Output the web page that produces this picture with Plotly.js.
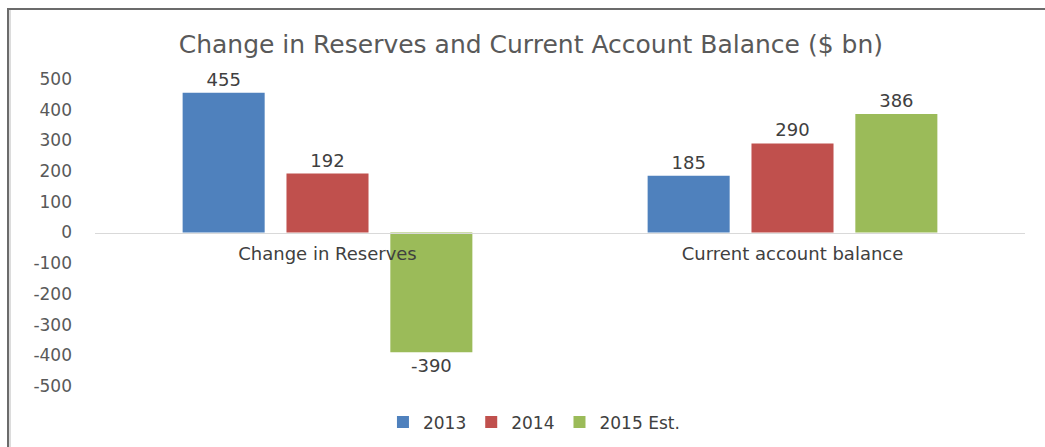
<!DOCTYPE html>
<html>
<head>
<meta charset="utf-8">
<script src="https://cdn.plot.ly/plotly-3.0.1.min.js"></script>
<style>
html,body{margin:0;padding:0;background:#fff;}
#wrap{position:relative;width:1045px;height:447px;overflow:hidden;}
#chart{width:1045px;height:447px;}
#frameTop{position:absolute;left:7px;top:8px;width:1038px;height:2px;background:#6b6b6b;}
#frameLeft{position:absolute;left:7px;top:8px;width:2px;height:439px;background:#6b6b6b;}
#frameLeft2{position:absolute;left:9px;top:10px;width:2px;height:437px;background:#dcdcdc;}
</style>
</head>
<body>
<div id="wrap">
<div id="chart"></div>
<div id="frameTop"></div>
<div id="frameLeft"></div>
<div id="frameLeft2"></div>
</div>
<script>
var categories = ["Change in Reserves", "Current account balance"];
var seriesNames = ["2013", "2014", "2015 Est."];
var values2013 = [455, 185];
var values2014 = [192, 290];
var values2015 = [-390, 386];
var yTickVals = [-500, -400, -300, -200, -100, 0, 100, 200, 300, 400, 500];
var titleText = "Change in Reserves and Current Account Balance ($ bn)";

var colors = ["#4F81BD", "#C0504D", "#9BBB59"];
var allValues = [values2013, values2014, values2015];
var font = "DejaVu Sans, sans-serif";

var traces = allValues.map(function(v, i){
  return {
    type: "bar",
    name: seriesNames[i],
    x: categories,
    y: v,
    marker: {color: colors[i], line: {width: 8, color: "rgba(0,0,0,0)"}},
    text: v.map(String),
    textposition: "outside",
    textfont: {family: font, size: 18, color: "#404040"},
    cliponaxis: false,
    hoverinfo: "x+y+name"
  };
});

var layout = {
  width: 1045,
  height: 447,
  margin: {l: 95, r: 20, t: 79, b: 61, autoexpand: false},
  paper_bgcolor: "#ffffff",
  plot_bgcolor: "#ffffff",
  barmode: "group",
  bargap: 0.33,
  bargroupgap: 0.21,
  title: {
    text: titleText,
    font: {family: font, size: 25, color: "#595959"},
    x: 0.508, xanchor: "center",
    y: 0.9, yanchor: "middle"
  },
  xaxis: {
    type: "category",
    anchor: "free",
    position: 0.5,
    showline: true,
    linecolor: "#d9d9d9",
    linewidth: 1,
    ticks: "",
    showgrid: false,
    zeroline: false,
    tickfont: {family: font, size: 18, color: "#404040"},
    ticklabelstandoff: 5
  },
  yaxis: {
    range: [-500, 500],
    tickvals: yTickVals,
    ticktext: yTickVals.map(String),
    showgrid: false,
    zeroline: false,
    showline: false,
    ticks: "",
    tickfont: {family: font, size: 17, color: "#595959"},
    ticklabelstandoff: 22
  },
  showlegend: true,
  legend: {
    orientation: "h",
    x: 0.472, xanchor: "center",
    yref: "container",
    y: 0.055, yanchor: "middle",
    font: {family: font, size: 17, color: "#404040"},
    itemwidth: 30,
    traceorder: "normal"
  }
};

Plotly.newPlot("chart", traces, layout, {displayModeBar: false, staticPlot: true});
</script>
</body>
</html>
